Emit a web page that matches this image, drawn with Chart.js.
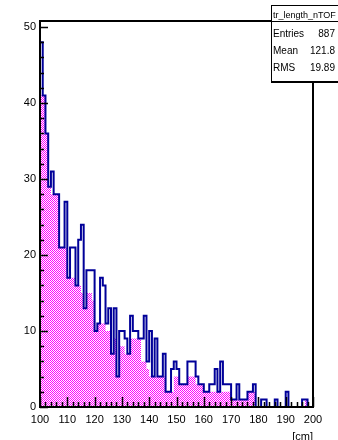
<!DOCTYPE html>
<html><head><meta charset="utf-8">
<script src="https://cdn.jsdelivr.net/npm/chart.js@4.4.1/dist/chart.umd.min.js"></script>
<style>
html,body{margin:0;padding:0;background:#fff;}
#wrap{position:relative;width:338px;height:440px;overflow:hidden;}
#c{position:absolute;left:0;top:0;}
#stats{position:absolute;left:271px;top:5px;width:72px;height:75px;border:1px solid #000;background:#fff;
  font-family:"Liberation Sans",Arial,sans-serif;color:#000;box-shadow:0 1px 0 #000;}
#stats .t{position:absolute;left:1px;top:3px;font-size:9px;line-height:12px;white-space:nowrap;}
#stats .sep{position:absolute;left:0;top:15px;width:100%;height:1px;background:#000;}
#stats .r{position:absolute;left:1px;width:62px;height:17px;line-height:17px;font-size:10px;white-space:nowrap;}
#stats .r span{position:absolute;right:0;top:0;}
</style></head>
<body><div id="wrap"><canvas id="c" width="338" height="440"></canvas>
<div id="stats">
 <div class="t">tr_length_nTOF</div>
 <div class="sep"></div>
 <div class="r" style="top:18.5px">Entries<span>887</span></div>
 <div class="r" style="top:35.5px">Mean<span>121.8</span></div>
 <div class="r" style="top:52.5px">RMS<span>19.89</span></div>
</div></div>
<script>
// bin edges: 100..200 cm, 1 cm per bin
const binLow = 100;
const binWidth = 1;
// total histogram (blue outline)
const totalCounts = [
 48,41,36,29,31,28,28,21,21,27,
 17,21,21,16,22,24,13,18,18,18,
 10,11,17,16,11,13,7,13,4,10,
 10,9,7,12,10,10,9,9,12,6,
 10,4,9,4,4,7,2,2,5,6,
 5,3,3,3,6,6,6,4,3,3,
 2,2,3,3,5,2,6,3,3,3,
 1,1,3,1,1,1,2,2,3,0,
 0,1,1,0,0,0,1,0,0,0,
 2,0,0,0,0,0,1,1,0,0
];
// subset histogram (magenta checkered fill)
const subsetCounts = [
 41,41,36,29,28,28,28,21,21,21,
 17,17,17,16,16,15,13,15,15,14,
 10,11,11,11,10,10,7,9,4,8,
 8,7,7,9,9,9,9,6,6,5,
 4,4,4,4,4,4,2,2,2,4,
 4,3,3,3,4,4,4,3,3,3,
 2,2,2,2,2,2,2,2,2,2,
 1,1,1,1,1,1,2,2,2,0,
 0,0,0,0,0,0,0,0,0,0,
 0,0,0,0,0,0,0,1,0,0
];
const xTickLabels = [100,110,120,130,140,150,160,170,180,190,200];
const yTickLabels = [0,10,20,30,40,50];
const xMinorStep = 2, yMinorStep = 2;

function stepPoints(counts){
  const pts = [{x:binLow, y:0}];
  counts.forEach((c,i)=>pts.push({x:binLow+i*binWidth, y:c}));
  const hi = binLow + counts.length*binWidth;
  pts.push({x:hi, y:counts[counts.length-1]});
  pts.push({x:hi, y:0});
  return pts;
}

const canvas = document.getElementById('c');
const ctx = canvas.getContext('2d');
const pc = document.createElement('canvas'); pc.width=2; pc.height=2;
const g = pc.getContext('2d');
g.fillStyle='#ffffff'; g.fillRect(0,0,2,2);
g.fillStyle='#ff00ff'; g.fillRect(0,0,1,1); g.fillRect(1,1,1,1);
const checker = ctx.createPattern(pc,'repeat');

const FONT = '"Liberation Sans", Arial, sans-serif';

const framePlugin = {
  id:'rootFrame',
  afterDraw(chart){
    const a = chart.chartArea, c = chart.ctx;
    const xs = chart.scales.x, ys = chart.scales.y;
    c.save();
    c.strokeStyle = '#000';
    c.lineWidth = 1.5;
    c.beginPath();
    for (let v = xs.min; v <= xs.max + 1e-9; v += xMinorStep){
      const px = Math.round(xs.getPixelForValue(v)) + 0.5;
      const len = (Math.round(v) % 10 === 0) ? 10 : 5;
      c.moveTo(px, a.bottom); c.lineTo(px, a.bottom - len);
    }
    for (let v = 0; v <= ys.max; v += yMinorStep){
      const py = Math.round(ys.getPixelForValue(v)) + 0.5;
      const len = (v % 10 === 0) ? 8 : 4;
      c.moveTo(a.left, py); c.lineTo(a.left + len, py);
    }
    c.stroke();
    c.lineWidth = 2;
    c.strokeRect(a.left, a.top, a.right - a.left, a.bottom - a.top);
    c.restore();
  }
};

new Chart(ctx, {
  type:'line',
  data:{datasets:[
    {label:'total', data:stepPoints(totalCounts), stepped:true, borderColor:'#000099', borderWidth:2,
     pointRadius:0, fill:false, order:0},
    {label:'subset', data:stepPoints(subsetCounts), stepped:true, borderColor:'rgba(0,0,0,0)', borderWidth:0,
     backgroundColor:checker, fill:'origin', pointRadius:0, order:1}
  ]},
  options:{
    responsive:false, animation:false, devicePixelRatio:1,
    layout:{padding:{left:0,right:25,top:21,bottom:0}},
    plugins:{legend:{display:false}, tooltip:{enabled:false}},
    scales:{
      x:{type:'linear', min:100, max:200,
        grid:{display:false, drawTicks:false}, border:{display:false},
        afterFit(s){ s.height = 33; },
        afterBuildTicks(s){ s.ticks = xTickLabels.map(v=>({value:v})); },
        ticks:{padding:6, color:'#000', font:{family:FONT, size:11}, maxRotation:0, autoSkip:false},
        title:{display:true, text:'[cm]', align:'end', color:'#000', padding:0,
          font:{family:FONT, size:11, lineHeight:0.5}}
      },
      y:{type:'linear', min:0, max:50.8,
        grid:{display:false, drawTicks:false}, border:{display:false},
        afterFit(s){ s.width = 40; },
        afterBuildTicks(s){ s.ticks = yTickLabels.map(v=>({value:v})); },
        ticks:{padding:4, color:'#000', font:{family:FONT, size:11}}
      }
    }
  },
  plugins:[framePlugin]
});
</script>
</body></html>
